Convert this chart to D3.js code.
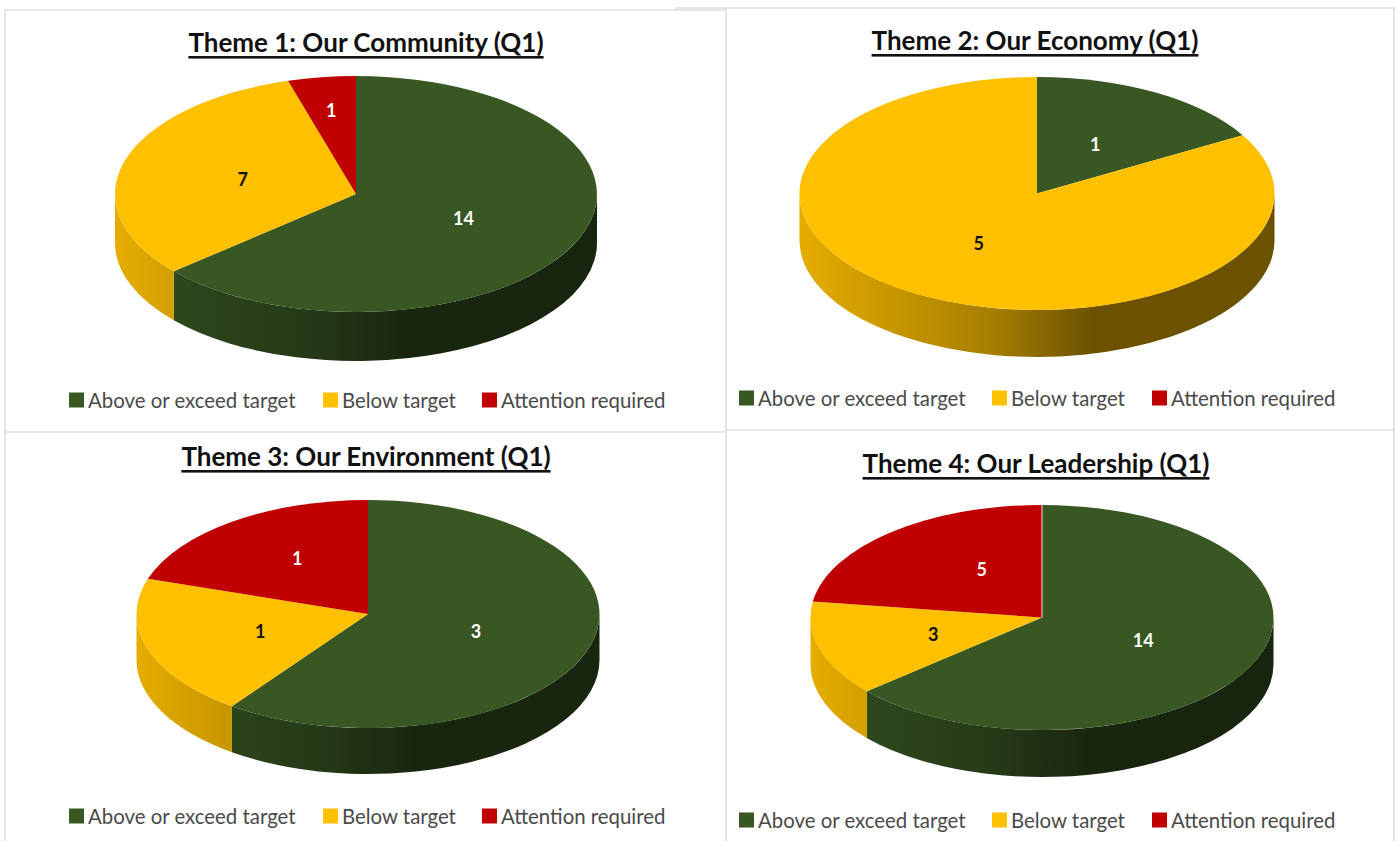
<!DOCTYPE html>
<html>
<head>
<meta charset="utf-8">
<script src="https://cdn.jsdelivr.net/npm/d3@7/dist/d3.min.js"></script>
<style>
  html, body { margin: 0; padding: 0; background: #fff; }
  svg { display: block; }
  text { font-family: Lato, "Open Sans", sans-serif; }
</style>
</head>
<body>
<svg id="board" width="1399" height="841"></svg>
<script>
// Status categories shared by all four themes
const categories = ["Above or exceed target", "Below target", "Attention required"];
const sliceColors = ["#385723", "#FFC000", "#C00000"];
const labelColors = ["#ffffff", "#111111", "#ffffff"];

// Measure counts per theme, in category order
const titles = ["Theme 1: Our Community (Q1)", "Theme 2: Our Economy (Q1)", "Theme 3: Our Environment (Q1)", "Theme 4: Our Leadership (Q1)"];
const theme1Values = [14, 7, 1];
const theme2Values = [1, 5, 0];
const theme3Values = [3, 1, 1];
const theme4Values = [14, 3, 5];
const themeValues = [theme1Values, theme2Values, theme3Values, theme4Values];

// Placement of each pie, its title and its legend row
const layouts = [
  { cx: 356,  cy: 194,   rx: 241,   ry: 118,   depth: 49, titleX: 366,  titleY: 42,  legendY: 400, legendX: [69, 323, 482],    nudge: [[0, 0], [0, 1], [-8, -27]], seam: false },
  { cx: 1037, cy: 193.5, rx: 237.5, ry: 116.5, depth: 47, titleX: 1035, titleY: 40,  legendY: 398, legendX: [739, 992, 1152],  nudge: [[0, 0], [0, 0], [0, 0]], seam: false },
  { cx: 368,  cy: 614,   rx: 231.5, ry: 114,   depth: 46, titleX: 366,  titleY: 456, legendY: 816, legendX: [69, 323, 482],    nudge: [[0, 0], [0, 0], [-4, -11]], seam: false },
  { cx: 1042, cy: 617.5, rx: 231.5, ry: 112.5, depth: 47, titleX: 1036, titleY: 463, legendY: 820, legendX: [739, 992, 1152],  nudge: [[-2, 0], [0, 1], [14, -7]], seam: true }
];

// Light frame lines between the panels
const frameLines = [
  [5, 10, 726, 10], [675, 8, 1395, 8],
  [5, 10, 5, 841], [726, 8, 726, 841], [1394, 8, 1394, 841],
  [5, 432, 726, 432], [726, 430, 1394, 430]
];

// Shading of the pie's outer wall from left to right: [offset, darkening]
const wallShade = [[0, 0.1], [0.4, 0.34], [0.62, 0.58], [1, 0.58]];

const svg = d3.select("#board");
const defs = svg.append("defs");

svg.append("g").selectAll("line").data(frameLines).join("line")
  .attr("x1", d => d[0]).attr("y1", d => d[1])
  .attr("x2", d => d[2]).attr("y2", d => d[3])
  .attr("stroke", "#dcdcdc").attr("stroke-width", 1.5);

const pie = d3.pie().sort(null).value(d => d);
const unitArc = d3.arc().innerRadius(0).outerRadius(1);

// Outer wall between two angles, measured clockwise from twelve o'clock
function wallPath(a0, a1, p) {
  const x = a => p.cx + p.rx * Math.sin(a);
  const y = a => p.cy - p.ry * Math.cos(a);
  return `M${x(a0)},${y(a0)}` +
    `A${p.rx},${p.ry} 0 0 1 ${x(a1)},${y(a1)}` +
    `L${x(a1)},${y(a1) + p.depth}` +
    `A${p.rx},${p.ry} 0 0 0 ${x(a0)},${y(a0) + p.depth}Z`;
}

themeValues.forEach((values, t) => {
  const p = layouts[t];
  const g = svg.append("g");
  const slices = pie(values);

  // One horizontal gradient per colour, spanning the pie's width
  sliceColors.forEach((c, i) => {
    const grad = defs.append("linearGradient")
      .attr("id", `wall-${t}-${i}`)
      .attr("gradientUnits", "userSpaceOnUse")
      .attr("x1", p.cx - p.rx).attr("x2", p.cx + p.rx)
      .attr("y1", 0).attr("y2", 0);
    wallShade.forEach(([off, dark]) => {
      grad.append("stop").attr("offset", off)
        .attr("stop-color", d3.interpolateRgb(c, "#000")(dark));
    });
  });

  // Only the front half of the wall can be seen
  const front = [Math.PI / 2, 3 * Math.PI / 2];
  g.selectAll("path.wall")
    .data(slices.filter(s => s.endAngle > front[0] && s.startAngle < front[1] && s.value > 0))
    .join("path")
    .attr("class", "wall")
    .attr("d", s => wallPath(Math.max(s.startAngle, front[0]), Math.min(s.endAngle, front[1]), p))
    .attr("fill", s => `url(#wall-${t}-${s.index})`);

  // Top face: a unit pie squashed into an ellipse
  g.append("g")
    .attr("transform", `translate(${p.cx},${p.cy}) scale(${p.rx},${p.ry})`)
    .selectAll("path").data(slices.filter(s => s.value > 0)).join("path")
    .attr("d", unitArc)
    .attr("fill", s => sliceColors[s.index]);

  // Pale hairline where the first and last slices meet
  if (p.seam) {
    g.append("line")
      .attr("x1", p.cx).attr("x2", p.cx)
      .attr("y1", p.cy).attr("y2", p.cy - p.ry)
      .attr("stroke", "#f4dcd6").attr("stroke-width", 1);
  }

  // Value labels at about half the radius along each slice's middle
  g.selectAll("text.value").data(slices.filter(s => s.value > 0)).join("text")
    .attr("class", "value")
    .attr("x", s => p.cx + 0.49 * p.rx * Math.sin((s.startAngle + s.endAngle) / 2) + p.nudge[s.index][0])
    .attr("y", s => p.cy - 0.49 * p.ry * Math.cos((s.startAngle + s.endAngle) / 2) + p.nudge[s.index][1])
    .attr("text-anchor", "middle").attr("dominant-baseline", "central")
    .attr("font-size", 18).attr("font-weight", 700)
    .attr("fill", s => labelColors[s.index])
    .text(s => s.value);

  // Title
  g.append("text")
    .attr("x", p.titleX).attr("y", p.titleY)
    .attr("text-anchor", "middle").attr("dominant-baseline", "central")
    .attr("font-size", 26).attr("font-weight", 700)
    .attr("text-decoration", "underline").attr("fill", "#111")
    .text(titles[t]);

  // Legend row
  const items = g.selectAll("g.legend").data(categories).join("g")
    .attr("class", "legend")
    .attr("transform", (d, i) => `translate(${p.legendX[i]},${p.legendY})`);
  items.append("rect")
    .attr("x", 0).attr("y", -7.5).attr("width", 15).attr("height", 15)
    .attr("fill", (d, i) => sliceColors[i]);
  items.append("text")
    .attr("x", 19).attr("y", 0)
    .attr("dominant-baseline", "central")
    .attr("font-size", 20.4).attr("fill", "#4a4a4a")
    .text(d => d);
});
</script>
</body>
</html>
